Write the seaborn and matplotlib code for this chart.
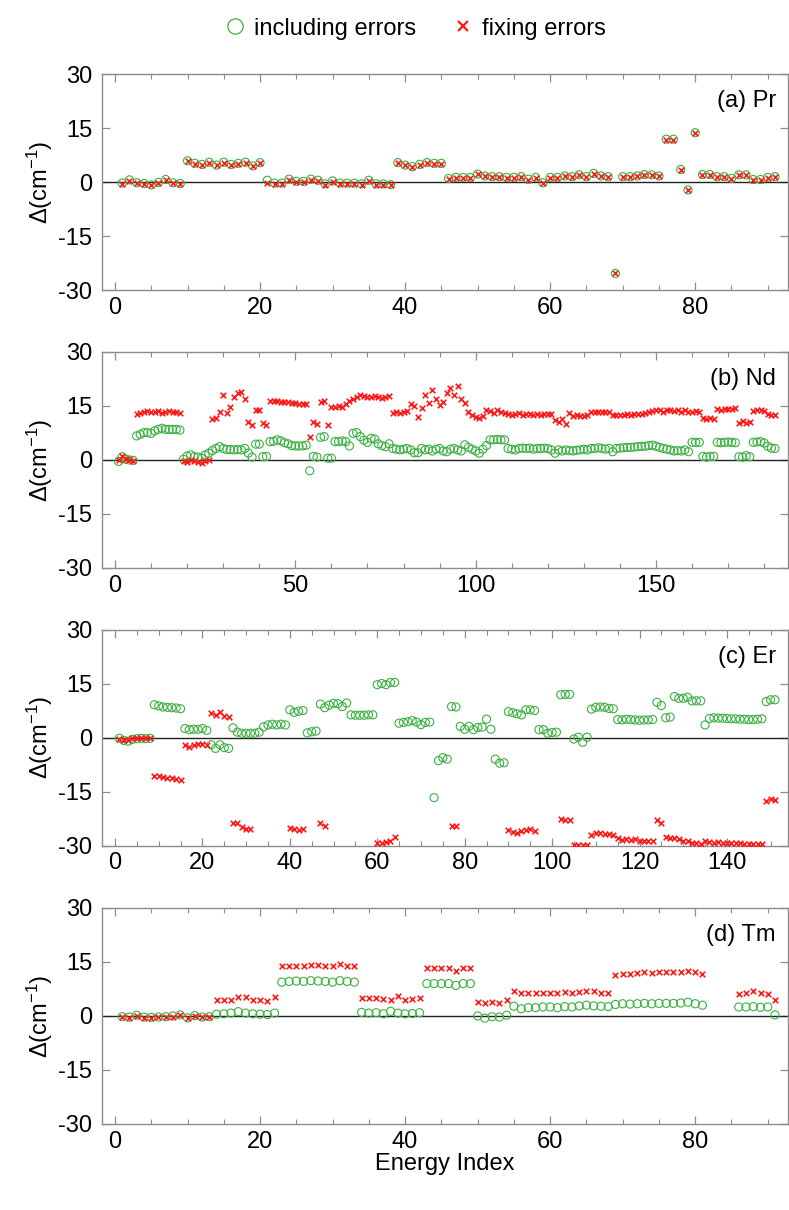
import numpy as np
import seaborn as sns
import matplotlib.pyplot as plt
from matplotlib.lines import Line2D

nan = np.nan

# ---- (a) Pr, 91 levels
pr_incl = [-0.3, 0.6, -0.2, -0.4, -0.8, -0.1, 0.7, -0.2, -0.4,
           5.9, 5.2, 4.9, 5.5, 4.7, 5.5, 4.9, 5.2, 5.5, 4.5, 5.4,
           0.5, -0.3, -0.3, 0.8, 0.2, 0.2, 0.8, 0.5, -0.5,
           0.3, -0.3, -0.3, -0.3, -0.5, 0.5, -0.5, -0.5, -0.7,
           5.4, 4.7, 4.3, 4.9, 5.4, 5.2, 5.2,
           1.0, 1.3, 1.3, 1.3, 2.2, 1.7, 1.5, 1.5, 1.3, 1.3, 1.5, 0.8, 1.3, -0.2, 1.3, 1.3, 1.7,
           1.5, 2.0, 1.5, 2.4, 1.7, 1.5,
           -25.4,
           1.5, 1.5, 1.7, 2.1, 2.0, 1.7,
           11.9, 11.9, 3.5, -2.2, 13.7,
           2.1, 2.1, 1.5, 1.5, 1.0, 2.0, 2.0, 0.7, 0.7, 1.3, 1.5]
pr_fix = [-0.5, 0.4, -0.4, -0.5, -0.9, -0.3, 0.5, -0.3, -0.6,
          5.8, 5.0, 4.7, 5.4, 4.6, 5.4, 4.8, 5.1, 5.4, 4.4, 5.3,
          -0.3, -0.6, -0.5, 0.5, 0.0, 0.0, 0.6, 0.3, -0.7,
          0.1, -0.5, -0.5, -0.5, -0.7, 0.3, -0.7, -0.7, -0.9,
          5.3, 4.6, 4.2, 4.8, 5.3, 5.1, 5.1,
          0.9, 1.2, 1.2, 1.2, 2.1, 1.6, 1.4, 1.4, 1.2, 1.2, 1.4, 0.7, 1.2, -0.3, 1.2, 1.2, 1.6,
          1.4, 1.9, 1.4, 2.3, 1.6, 1.4,
          -25.4,
          1.4, 1.4, 1.6, 2.0, 1.9, 1.6,
          11.8, 11.8, 3.4, -2.3, 13.6,
          2.0, 2.0, 1.4, 1.4, 0.9, 1.9, 1.9, 0.6, 0.6, 1.2, 1.4]

# ---- (b) Nd, 183 levels
nd_incl = [-0.4, 0.9, 0.2, 0.0, -0.1,
           6.7, 7.1, 7.6, 7.6, 7.4, 8.1, 8.5, 8.8, 8.5, 8.5, 8.5, 8.5, 8.3,
           0.2, 1.1, 1.4, 0.9, 0.8, 0.5, 1.4, 1.9,
           2.6, 3.2, 3.7, 3.2, 2.9, 2.9, 2.8, 2.9, 2.8, 3.2, 1.9, 0.8,
           4.4, 4.4, 0.9, 1.0,
           5.1, 5.2, 5.6, 5.3, 4.8, 4.5, 4.0, 3.9, 3.9, 3.9, 4.1,
           -3.0, 1.0, 0.8, 6.3, 6.5, 0.5, 0.5,
           5.1, 5.1, 5.3, 5.1, 3.9, 7.4, 7.6, 6.5, 5.5, 4.9,
           6.0, 5.8, 4.5, 4.0, 3.7, 4.5,
           3.2, 3.0, 2.8, 3.0, 3.2, 2.8, 2.0, 2.0,
           3.2, 2.8, 3.0, 2.5, 3.0, 3.2, 2.5, 2.3, 3.0, 3.2, 2.8, 2.5,
           4.2, 3.5, 3.0, 2.5, 1.9, 3.0, 4.0,
           5.6, 5.6, 5.7, 5.6, 5.6,
           3.2, 3.0, 2.8, 3.2, 3.3, 3.2, 3.3, 3.0, 3.2, 3.2, 3.3, 3.2, 2.8, 1.9,
           2.8, 2.5, 2.8, 2.6, 2.5, 2.7, 2.8, 3.0, 2.8,
           3.2, 3.2, 3.4, 3.2, 3.0, 3.2, 2.3,
           3.2, 3.3, 3.4, 3.5, 3.5, 3.6, 3.7, 3.8, 3.8, 4.0, 4.1, 3.8, 3.5, 3.2, 3.0, 2.8,
           2.5, 2.6, 2.5, 2.8, 2.3,
           4.9, 4.9, 4.9, 1.0, 0.8, 1.0, 1.0,
           4.9, 4.8, 4.9, 5.0, 4.9, 4.8, 0.9, 0.8, 1.2, 0.9,
           4.9, 5.0, 5.1, 4.7, 3.8, 3.3, 3.2]
nd_fix = [0.0, 1.0, 0.3, 0.0, -0.3,
          12.9, 13.0, 13.2, 13.5, 13.2, 13.4, 13.5, 13.0, 13.4, 13.5, 13.2, 13.3, 13.0,
          -0.3, -0.5, 0.0, -0.3, -0.5, -0.7, -0.3, 0.0,
          11.5, 11.8, 13.4, 18.0, 13.0, 14.6, 17.5, 18.5, 19.0, 17.0,
          10.5, 9.8, 13.8, 13.9, 10.3, 9.7,
          16.5, 16.3, 16.5, 16.2, 16.0, 16.0, 15.8, 15.8, 15.5, 15.5, 15.6,
          6.3, 10.6, 9.9, 16.0, 16.3, 9.8,
          14.8, 14.8, 15.0, 14.8, 15.5, 16.5,
          17.0, 17.5, 18.0, 17.8, 17.5, 17.6, 17.8, 17.5, 17.2, 17.5, 17.8,
          13.0, 13.2, 13.0, 13.3, 13.5,
          15.6, 15.0, 12.0, 14.4, 18.0,
          15.9, 19.5, 17.0, 15.3, 16.2, 18.5, 20.0, 18.0, 20.5, 17.0,
          15.7, 13.4, 12.6, 12.0, 11.6, 12.3,
          13.9, 13.5, 13.0, 13.8, 13.2,
          13.0, 12.8, 12.6, 12.8, 13.0, 12.6, 12.8, 12.7, 12.6, 12.8, 12.5, 12.9, 12.7, 12.8, 11.0,
          10.5, 11.5, 10.0,
          13.0, 12.3, 12.5, 12.3, 12.2, 12.5,
          13.3, 13.2, 13.4, 13.2, 13.3, 13.3,
          12.4, 12.5, 12.6, 12.6, 12.7, 12.6, 12.8, 12.7, 12.9, 13.0, 13.2, 13.5, 13.8, 13.9, 13.4, 13.9, 14.0,
          13.5, 13.8, 13.4, 13.9, 13.3,
          13.4, 13.5, 13.3, 11.6, 11.3, 11.8, 11.5,
          14.2, 14.0, 14.3, 14.1, 14.2, 14.5, 10.4, 10.8, 10.2, 10.5,
          13.6, 13.8, 14.0, 13.5, 12.8, 12.5, 12.6]

# ---- (c) Er, 151 levels (nan = outside the plotted range)
er_incl = [-0.2, -0.8, -1.0, -0.5, -0.3, -0.2, -0.3, -0.2,
           9.1, 8.8, 8.5, 8.4, 8.3, 8.2, 8.0,
           2.5, 2.2, 2.3, 2.3, 2.5, 2.0,
           -2.0, -3.0, -2.0, -2.8, -3.0,
           2.7, 1.5, 1.2, 1.2, 1.2, 1.2, 1.5, 3.0, 3.5, 3.7, 3.5, 3.7, 3.5,
           7.7, 7.0, 7.3, 7.5,
           1.3, 1.6, 1.8,
           9.3, 8.3, 9.0, 9.5, 9.4, 8.6, 9.6,
           6.3, 6.2, 6.2, 6.2, 6.3, 6.3,
           14.7, 15.0, 14.7, 15.3, 15.3,
           4.0, 4.2, 4.4, 4.7, 4.3, 3.6, 4.2, 4.3,
           -16.7, -6.4, -5.6, -6.0, 8.6, 8.5,
           3.1, 2.3, 3.1, 2.2, 2.8, 2.9, 5.1, 2.3,
           -6.0, -7.1, -7.0,
           7.2, 6.9, 6.6, 6.3, 7.7, 7.7, 7.5,
           2.2, 2.2, 1.2, 1.4, 1.5,
           11.9, 12.0, 12.0,
           -0.4, 0.1, -1.3, 0.1,
           7.9, 8.4, 8.5, 8.4, 8.1, 8.0,
           5.0, 4.9, 5.1, 5.0, 4.9, 4.8, 4.9, 4.9, 5.0,
           9.8, 8.9, 5.5, 5.7,
           11.4, 10.9, 10.9, 11.2, 10.2, 10.2, 10.2,
           3.5,
           5.3, 5.5, 5.4, 5.4, 5.3, 5.2, 5.2, 5.1, 5.1, 5.0, 5.0, 5.1, 5.2,
           10.0, 10.5, 10.5]
er_fix = [-0.5, -0.8, -0.7, -0.2, -0.2, -0.2, -0.2, -0.2,
          -10.6, -10.8, -11.0, -11.3, -11.3, -11.5, -11.7,
          -2.2, -2.5, -2.0, -1.8, -1.7, -2.2,
          6.8, 6.3, 7.0, 5.9, 5.7,
          -23.7, -23.7, -24.8, -25.5, -25.5, nan, nan, nan, nan, nan, nan, nan, nan,
          -25.0, -25.5, -25.8, -25.3,
          nan, nan, nan,
          -23.7, -24.6, nan, nan, nan, nan, nan,
          nan, nan, nan, nan, nan, nan,
          -29.2, -29.2, -29.0, -28.8, -27.6,
          nan, nan, nan, nan, nan, nan, nan, nan,
          nan, nan, nan, nan, -24.5, -24.5,
          nan, nan, nan, nan, nan, nan, nan, nan,
          nan, nan, nan,
          -25.7, -26.2, -26.5, -26.0, -25.6, -25.5, -26.0,
          nan, nan, nan, nan, nan,
          -22.5, -22.8, -23.0,
          -29.9, -29.9, -29.9, -29.9,
          -27.2, -26.6, -26.6, -26.8, -26.8, -27.0,
          -28.0, -28.4, -28.2, -28.5, -28.3, -28.7, -28.6, -28.7, -28.6,
          -22.9, -23.7, -27.6, -27.8,
          -28.0, -28.2, -28.6, -28.8, -29.2, -29.4, -29.5,
          -28.8,
          -29.0, -29.2, -29.1, -29.2, -29.3, -29.3, -29.4, -29.4, -29.5, -29.5, -29.6, -29.6, -29.5,
          -17.5, -17.0, -17.3]

# ---- (d) Tm, 91 levels
tm_incl = [-0.2, -0.3, 0.2, -0.3, -0.4, -0.3, -0.2, 0.0, 0.3, -0.5, 0.1, -0.3, -0.2,
           0.5, 0.6, 0.8, 1.2, 0.8, 0.6, 0.5, 0.4, 0.8,
           9.4, 9.6, 9.7, 9.6, 9.8, 9.7, 9.6, 9.4, 9.8, 9.6, 9.4,
           1.0, 0.8, 0.9, 0.6, 1.3, 0.8, 0.6, 0.7, 0.9,
           9.0, 9.0, 9.0, 9.0, 8.5, 9.0, 9.0,
           0.0, -0.6, -0.2, -0.3, 0.2,
           2.7, 2.0, 2.3, 2.3, 2.5, 2.5, 2.3, 2.6, 2.5, 2.8, 3.0, 2.8, 2.7, 2.6,
           3.2, 3.4, 3.3, 3.4, 3.5, 3.4, 3.5, 3.5, 3.5, 3.6, 3.8, 3.4, 3.0,
           nan, nan, nan, nan,
           2.5, 2.5, 2.6, 2.4, 2.5, 0.3]
tm_fix = [-0.3, -0.5, 0.0, -0.5, -0.5, -0.4, -0.3, -0.2, 0.2, -0.6, 0.0, -0.4, -0.3,
          4.5, 4.5, 4.5, 5.2, 5.2, 4.3, 4.5, 4.2, 5.2,
          13.8, 13.9, 14.0, 14.0, 14.2, 14.2, 14.0, 13.8, 14.4, 14.0, 13.8,
          5.1, 5.1, 5.1, 4.7, 4.5, 5.5, 4.5, 4.7, 5.0,
          13.2, 13.2, 13.2, 13.3, 12.5, 13.2, 13.2,
          3.8, 3.6, 4.0, 3.6, 4.3,
          7.0, 6.3, 6.5, 6.5, 6.5, 6.5, 6.3, 6.7, 6.4, 6.7, 6.9, 7.0, 6.5, 6.4,
          11.3, 11.7, 11.7, 12.0, 12.2, 11.9, 12.2, 12.2, 12.2, 12.2, 12.5, 12.2, 11.7,
          nan, nan, nan, nan,
          6.1, 6.4, 7.0, 6.5, 6.0, 4.4]

panel_names = ['(a) Pr', '(b) Nd', '(c) Er', '(d) Tm']
incl_data = [pr_incl, nd_incl, er_incl, tm_incl]
fix_data = [pr_fix, nd_fix, er_fix, tm_fix]
major_step = [20, 50, 20, 20]
minor_step = [5, 10, 5, 5]

green = '#3cb043'
red = '#ff1a1a'
frame = '#8c8c8c'

sns.set_style('ticks')
plt.rcParams['font.family'] = ['Liberation Sans', 'DejaVu Sans']
plt.rcParams['mathtext.fontset'] = 'custom'
plt.rcParams['mathtext.rm'] = 'Liberation Sans'
plt.rcParams['mathtext.it'] = 'Liberation Sans:italic'
plt.rcParams['axes.unicode_minus'] = False
plt.rcParams['text.color'] = 'black'
plt.rcParams['axes.labelcolor'] = 'black'

fig = plt.figure(figsize=(7.89, 12.10), dpi=100)
bottoms = [0.7603, 0.5306, 0.3012, 0.0711]

for k in range(4):
    ax = fig.add_axes([0.129, bottoms[k], 0.870, 0.1785])
    incl = incl_data[k]
    fix = fix_data[k]
    n = len(incl)
    idx = np.arange(1, n + 1)
    ax.axhline(0, color='#222222', lw=1.0, zorder=1)
    sns.scatterplot(x=idx, y=incl, ax=ax, marker='o', s=34, facecolor='none',
                    edgecolor=green, linewidth=0.8, zorder=2)
    sns.scatterplot(x=idx, y=fix, ax=ax, marker='x', s=16, color=red,
                    linewidth=1.2, zorder=3)
    ax.set_xlim(-0.02 * n, 1.02 * n)
    ax.set_ylim(-30, 30)
    ax.set_yticks([-30, -15, 0, 15, 30])
    ax.set_xticks(np.arange(0, n + 1, major_step[k]))
    ax.set_xticks(np.arange(0, n + 1, minor_step[k]), minor=True)
    ax.tick_params(which='both', direction='in', top=True, right=True,
                   color=frame, labelsize=17, labelcolor='black')
    ax.tick_params(which='major', length=6, width=0.9)
    ax.tick_params(which='minor', length=3.5, width=0.8)
    ax.tick_params(axis='y', pad=7)
    ax.tick_params(axis='x', pad=5)
    for sp in ax.spines.values():
        sp.set_color(frame)
        sp.set_linewidth(1.0)
    ax.set_ylabel('Δ(cm$^{-1}$)', fontsize=17, labelpad=2)
    ax.set_xlabel('')
    ax.text(0.982, 0.875, panel_names[k], transform=ax.transAxes,
            ha='right', va='center', fontsize=17, color='black')
    if k == 3:
        ax.set_xlabel('Energy Index', fontsize=17, labelpad=0)

handles = [Line2D([], [], ls='none', marker='o', ms=11, mfc='none', mec=green, mew=0.9),
           Line2D([], [], ls='none', marker='x', ms=7, color=red, mew=1.6)]
fig.legend(handles, ['including errors', 'fixing errors'], loc='upper center',
           bbox_to_anchor=(0.527, 1.003), ncol=2, frameon=False, fontsize=17,
           handlelength=0.8, handletextpad=0.4, columnspacing=1.6)

fig.savefig('out.png', dpi=100)
